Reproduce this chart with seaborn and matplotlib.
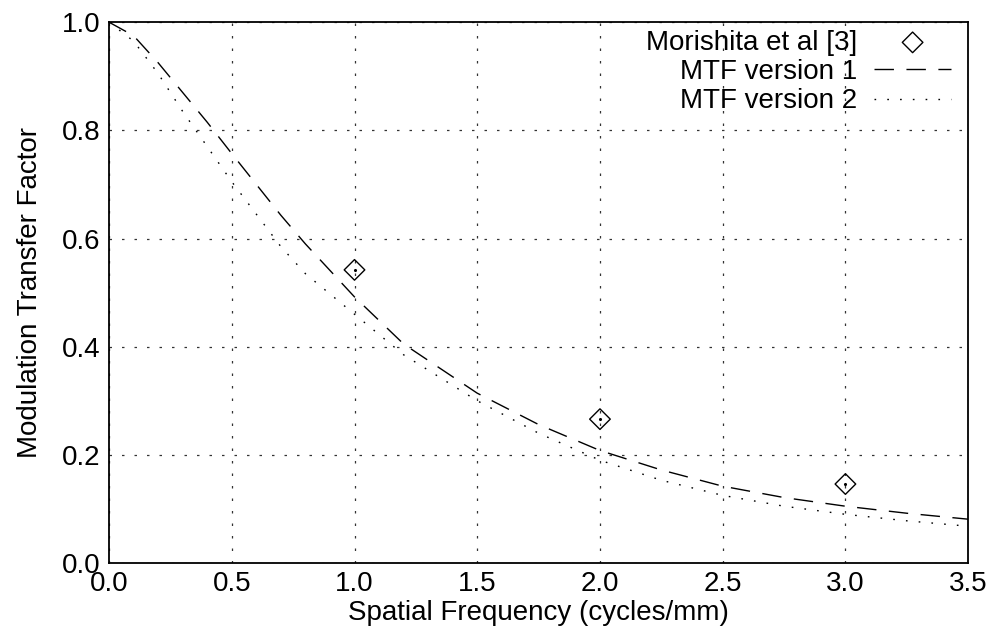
import numpy as np
import pandas as pd
import seaborn as sns
import matplotlib.pyplot as plt

# values
freq = [0.0, 0.1, 0.2, 0.3, 0.4, 0.5, 0.6, 0.7, 0.8, 1.0, 1.2, 1.5, 1.75, 2.0, 2.25, 2.5, 2.75, 3.0, 3.25, 3.5]
mtf_v1 = [1.0, 0.975, 0.925, 0.87, 0.815, 0.757, 0.70, 0.643, 0.59, 0.492, 0.405, 0.314, 0.256, 0.208, 0.172, 0.142, 0.121, 0.105, 0.092, 0.081]
mtf_v2 = [1.0, 0.965, 0.905, 0.835, 0.77, 0.705, 0.645, 0.585, 0.535, 0.46, 0.385, 0.30, 0.24, 0.19, 0.153, 0.125, 0.105, 0.09, 0.078, 0.068]
meas_x = [1.0, 2.0, 3.0]
meas_y = [0.542, 0.266, 0.146]

sns.set_style("white")
plt.rcParams["font.family"] = ["Liberation Sans", "DejaVu Sans"]
plt.rcParams["text.color"] = "black"
plt.rcParams["axes.labelcolor"] = "black"
plt.rcParams["xtick.color"] = "black"
plt.rcParams["ytick.color"] = "black"

curves = pd.DataFrame({"freq": freq, "v1": mtf_v1, "v2": mtf_v2})
meas = pd.DataFrame({"freq": meas_x, "mtf": meas_y})

fig, ax = plt.subplots(figsize=(9.94, 6.34), dpi=100)
fig.subplots_adjust(left=0.1097, right=0.974, top=0.965, bottom=0.112)

sns.scatterplot(data=meas, x="freq", y="mtf", marker="D", s=110, facecolor="none",
                edgecolor="black", linewidth=1.0, ax=ax, label="Morishita et al [3]", zorder=3)
# small centre dot of the gnuplot-style diamonds
ax.scatter(meas["freq"], meas["mtf"], s=1.5, color="black", zorder=3)
sns.lineplot(data=curves, x="freq", y="v1", color="black", lw=1.0, ax=ax,
             label="MTF version 1", dashes=False)
sns.lineplot(data=curves, x="freq", y="v2", color="black", lw=1.0, ax=ax,
             label="MTF version 2", dashes=False)
ax.lines[0].set_dashes((14, 9))
ax.lines[1].set_dashes((1.2, 8))

ax.set_xlim(0, 3.5)
ax.set_ylim(0, 1.0)
ax.set_xticks(np.arange(0, 3.51, 0.5))
ax.set_yticks(np.arange(0, 1.01, 0.2))
ax.set_xticklabels([f"{v:.1f}" for v in np.arange(0, 3.51, 0.5)])
ax.set_yticklabels([f"{v:.1f}" for v in np.arange(0, 1.01, 0.2)])
ax.grid(True, color="#333333", lw=0.9, linestyle=(0, (2, 8)))
ax.tick_params(labelsize=20, direction="in", length=4, color="black", pad=6)
for s in ax.spines.values():
    s.set_color("black")
    s.set_linewidth(1.3)

ax.set_xlabel("Spatial Frequency (cycles/mm)", fontsize=20, labelpad=2)
ax.set_ylabel("Modulation Transfer Factor", fontsize=20, labelpad=14)

leg = ax.legend(loc="upper right", bbox_to_anchor=(1.0, 1.017), frameon=False,
                markerfirst=False, fontsize=20, handlelength=2.8, labelspacing=0.12,
                borderaxespad=0.2, handletextpad=0.6)

plt.savefig("out.png", dpi=100)
